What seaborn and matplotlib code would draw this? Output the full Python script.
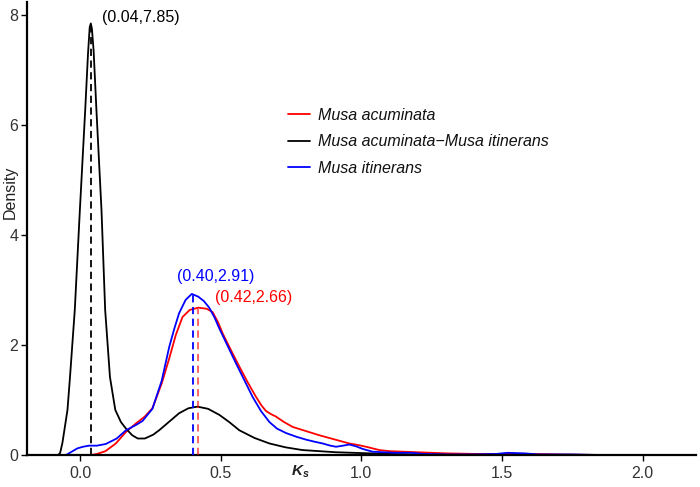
import numpy as np
import pandas as pd
import matplotlib
matplotlib.use("Agg")
import matplotlib.pyplot as plt
import seaborn as sns

# ---------------- data ----------------
series_names = ["Musa acuminata", "Musa acuminata\u2212Musa itinerans", "Musa itinerans"]
series_colors = ["#FF0000", "#000000", "#0000FF"]

ks_acu = [0.04, 0.06, 0.09, 0.127, 0.163, 0.2, 0.23, 0.257, 0.29, 0.317, 0.34, 0.364,
          0.39, 0.421, 0.45, 0.471, 0.49, 0.507, 0.535, 0.566, 0.595, 0.625, 0.645,
          0.661, 0.68, 0.696, 0.725, 0.756, 0.80, 0.85, 0.90, 0.957, 0.99, 1.017,
          1.064, 1.10, 1.15, 1.2, 1.3, 1.4, 1.5, 1.6, 1.7, 1.85]
dens_acu = [0.0, 0.02, 0.07, 0.21, 0.42, 0.58, 0.70, 0.85, 1.30, 1.76, 2.18, 2.51,
            2.64, 2.68, 2.66, 2.60, 2.42, 2.21, 1.92, 1.61, 1.33, 1.06, 0.90,
            0.80, 0.74, 0.70, 0.60, 0.51, 0.44, 0.36, 0.29, 0.21, 0.18, 0.15,
            0.09, 0.07, 0.06, 0.05, 0.03, 0.02, 0.02, 0.02, 0.01, 0.0]

ks_hyb = [-0.078, -0.071, -0.063, -0.045, -0.036, -0.019, -0.001, 0.018, 0.028, 0.034,
          0.038, 0.042, 0.048, 0.058, 0.076, 0.089, 0.106, 0.125, 0.145, 0.163, 0.185,
          0.205, 0.23, 0.26, 0.281, 0.32, 0.352, 0.385, 0.417, 0.455, 0.495, 0.53,
          0.566, 0.62, 0.673, 0.73, 0.79, 0.85, 0.91, 0.97, 1.03, 1.10, 1.20, 1.30]
dens_hyb = [0.0, 0.04, 0.22, 0.82, 1.42, 2.64, 4.45, 6.27, 7.30, 7.78,
            7.85, 7.75, 7.35, 6.27, 4.45, 2.64, 1.42, 0.82, 0.60, 0.48, 0.36,
            0.30, 0.30, 0.37, 0.45, 0.62, 0.76, 0.85, 0.88, 0.84, 0.73, 0.60,
            0.45, 0.31, 0.21, 0.14, 0.09, 0.07, 0.05, 0.04, 0.03, 0.02, 0.01, 0.005]

ks_iti = [-0.05, -0.03, -0.01, 0.01, 0.032, 0.06, 0.091, 0.13, 0.163, 0.2, 0.222, 0.257,
          0.29, 0.317, 0.335, 0.352, 0.375, 0.397, 0.42, 0.44, 0.459, 0.478, 0.495,
          0.525, 0.554, 0.585, 0.613, 0.643, 0.673, 0.70, 0.732, 0.77, 0.803, 0.835,
          0.862, 0.89, 0.91, 0.935, 0.957, 0.98, 1.005, 1.04, 1.08, 1.12, 1.18, 1.22,
          1.3, 1.4, 1.48, 1.52, 1.58, 1.63, 1.7, 1.75, 1.85]
dens_iti = [0.0, 0.06, 0.12, 0.15, 0.17, 0.17, 0.20, 0.30, 0.45, 0.55, 0.62, 0.84,
            1.35, 1.97, 2.30, 2.58, 2.82, 2.93, 2.88, 2.80, 2.68, 2.50, 2.30,
            1.98, 1.67, 1.35, 1.06, 0.80, 0.60, 0.48, 0.40, 0.33, 0.28, 0.24,
            0.21, 0.17, 0.15, 0.17, 0.19, 0.16, 0.11, 0.06, 0.05, 0.04, 0.04, 0.02,
            0.01, 0.01, 0.02, 0.04, 0.03, 0.01, 0.01, 0.01, 0.0]

peak_ks = [0.42, 0.04, 0.40]
peak_dens = [2.66, 7.85, 2.91]

x_ticks = [0.0, 0.5, 1.0, 1.5, 2.0]
y_ticks = [0, 2, 4, 6, 8]

# ---------------- build table ----------------
df = pd.concat([
    pd.DataFrame({"Ks": ks_acu, "Density": dens_acu, "Species": series_names[0]}),
    pd.DataFrame({"Ks": ks_hyb, "Density": dens_hyb, "Species": series_names[1]}),
    pd.DataFrame({"Ks": ks_iti, "Density": dens_iti, "Species": series_names[2]}),
], ignore_index=True)

sns.set_style("ticks")
plt.rcParams["font.family"] = ["Liberation Sans", "DejaVu Sans"]
plt.rcParams["mathtext.fontset"] = "custom"
plt.rcParams["mathtext.it"] = "Liberation Sans:italic:bold"
plt.rcParams["mathtext.rm"] = "Liberation Sans"

fig = plt.figure(figsize=(7.0, 4.87), dpi=100)
ax = fig.add_axes([26.7 / 700, 32 / 487, (696 - 26.7) / 700, (455 - 2) / 487])

palette = dict(zip(series_names, series_colors))
sns.lineplot(data=df, x="Ks", y="Density", hue="Species", hue_order=series_names,
             palette=palette, estimator=None, sort=False, lw=1.3, ax=ax)

# dashed peak lines + labels
label_pos = [(0.48, 2.87), (0.078, 7.96), (0.346, 3.24)]
dash_alpha = [0.65, 1.0, 1.0]
for i in range(3):
    ax.vlines(peak_ks[i], 0, peak_dens[i], colors=series_colors[i],
              linestyles=(0, (4, 2.5)), lw=1.3, alpha=dash_alpha[i], zorder=3)
    lx, ly = label_pos[i]
    ax.text(lx, ly, f"({peak_ks[i]:.2f},{peak_dens[i]:.2f})", color=series_colors[i],
            fontsize=11.5, ha="left", va="center")

ax.set_xlim(-0.19, 2.19)
ax.set_ylim(0, 8.24)
ax.set_xticks(x_ticks)
ax.set_xticklabels([f"{t:.1f}" for t in x_ticks])
ax.set_yticks(y_ticks)
ax.set_yticklabels([str(t) for t in y_ticks])
ax.tick_params(axis="both", labelsize=11.5, colors="#000000", labelcolor="#333333",
               length=4, width=1.0)
ax.tick_params(axis="x", pad=4)
ax.tick_params(axis="y", pad=2)

for s in ["top", "right"]:
    ax.spines[s].set_visible(False)
for s in ["left", "bottom"]:
    ax.spines[s].set_linewidth(1.6)
    ax.spines[s].set_color("black")

ax.set_ylabel("")
ax.set_xlabel("")
fig.text(10 / 700, 1 - 192 / 487, "Density", rotation=90, fontsize=11.5,
         color="#222222", ha="center", va="center")
fig.text(300 / 700, 1 - 472 / 487, r"$K_s$", fontsize=11, color="#222222",
         ha="center", va="center")

handles, labels = ax.get_legend_handles_labels()
leg = ax.legend(handles, labels, loc="upper left",
                bbox_to_anchor=(288 / 700, 1 - 108 / 487), bbox_transform=fig.transFigure,
                frameon=False, fontsize=11.5, handlelength=1.4, handletextpad=0.45,
                labelspacing=0.72, borderpad=0, borderaxespad=0)
for t in leg.get_texts():
    t.set_fontstyle("italic")
    t.set_color("#111111")
for h in leg.get_lines():
    h.set_linewidth(1.3)

fig.savefig("out.png", dpi=100)
